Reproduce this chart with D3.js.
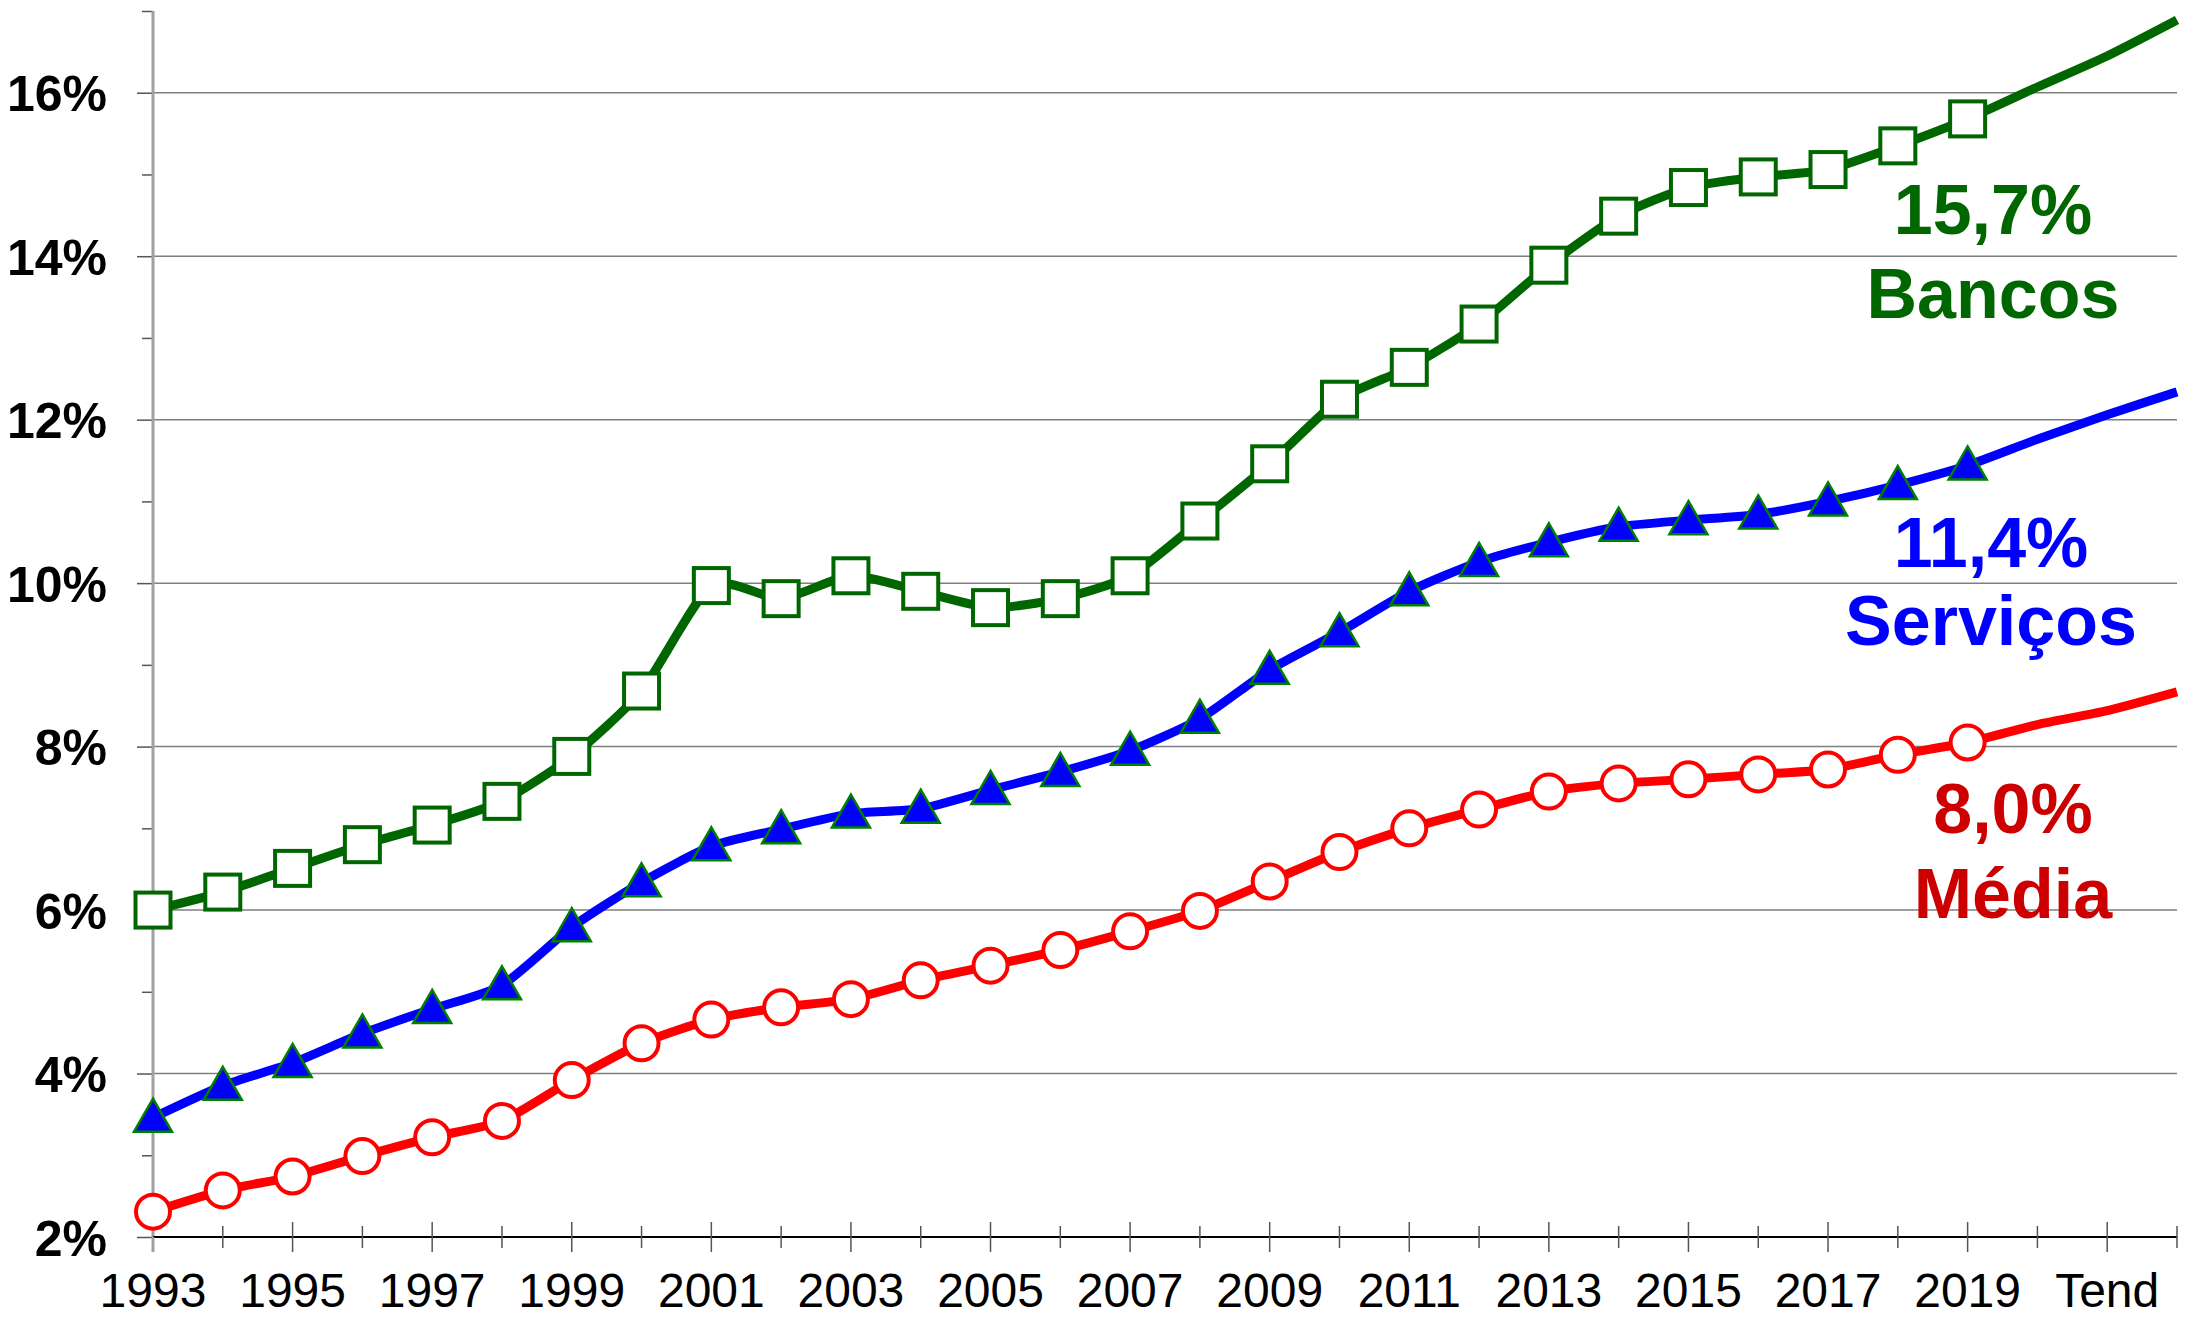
<!doctype html>
<meta charset="utf-8">
<style>
    body { margin: 0; background: #fff; }
    text { font-family: "Liberation Sans", Arial, sans-serif; }
</style>
<body>
<script src="https://d3js.org/d3.v7.min.js"></script>
<script>
    // categories: index 0..29, labels on even positions
    const categories = ['1993', '1994', '1995', '1996', '1997', '1998', '1999', '2000', '2001', '2002',
        '2003', '2004', '2005', '2006', '2007', '2008', '2009', '2010', '2011', '2012',
        '2013', '2014', '2015', '2016', '2017', '2018', '2019', '2020', 'Tend', ''];

    // observed values 1993-2019 (%)
    const bancos = [6.00, 6.22, 6.51, 6.80, 7.04, 7.33, 7.88, 8.68, 9.97, 9.81,
        10.09, 9.90, 9.70, 9.81, 10.09, 10.76, 11.46, 12.25, 12.64, 13.17,
        13.89, 14.49, 14.84, 14.97, 15.06, 15.35, 15.68];
    const servicos = [3.46, 3.85, 4.13, 4.49, 4.79, 5.08, 5.79, 6.34, 6.78, 6.99,
        7.18, 7.24, 7.47, 7.69, 7.95, 8.34, 8.94, 9.40, 9.90, 10.26,
        10.50, 10.69, 10.77, 10.84, 11.00, 11.20, 11.44];
    const media = [2.31, 2.57, 2.74, 2.99, 3.22, 3.42, 3.92, 4.37, 4.66, 4.81,
        4.91, 5.14, 5.32, 5.51, 5.74, 5.99, 6.35, 6.71, 7.00, 7.23,
        7.45, 7.55, 7.60, 7.66, 7.72, 7.90, 8.05];

    // trend extension (2020, Tend, end)
    const bancosTend = [16.07, 16.45, 16.89];
    const servicosTend = [11.76, 12.06, 12.34];
    const mediaTend = [8.27, 8.44, 8.67];

    const yTicks = [2, 4, 6, 8, 10, 12, 14, 16];
    const yMinorTicks = [3, 5, 7, 9, 11, 13, 15, 17];

    const endLabels = [
        {value: '15,7%', name: 'Bancos', color: '#006600', cx: 1993, y1: 234, y2: 318},
        {value: '11,4%', name: 'Serviços', color: '#0000ff', cx: 1991, y1: 567, y2: 645},
        {value: '8,0%', name: 'Média', color: '#cc0000', cx: 2013, y1: 833, y2: 918}
    ];

    const width = 2196;
    const height = 1319;
    const plotLeft = 153, plotRight = 2177, plotTop = 11, plotBottom = 1237;

    const x = d3.scaleLinear().domain([0, categories.length - 1]).range([plotLeft, plotRight]);
    const y = d3.scaleLinear().domain([2, 17]).range([plotBottom, plotTop]);

    const svg = d3.select('body')
        .append('svg')
        .attr('width', width)
        .attr('height', height);

    // gridlines
    svg.append('g')
        .selectAll('line')
        .data(yTicks.filter(d => d > 2))
        .enter()
        .append('line')
        .attr('x1', plotLeft)
        .attr('x2', plotRight)
        .attr('y1', d => y(d))
        .attr('y2', d => y(d))
        .attr('stroke', '#7f7f7f')
        .attr('stroke-width', 1.5);

    // y axis
    const yAxis = svg.append('g')
        .attr('transform', `translate(${plotLeft}, 0)`)
        .call(d3.axisLeft(y).tickValues(yTicks).tickSize(16).tickPadding(30).tickFormat(d => d + '%'));
    yAxis.select('.domain').remove();
    yAxis.selectAll('line').attr('stroke', '#555').attr('stroke-width', 1.5);
    yAxis.selectAll('text')
        .attr('font-size', 50)
        .attr('font-weight', 'bold')
        .attr('fill', '#000')
        .attr('dy', '0.36em')
        .attr('font-family', '"Liberation Sans", Arial, sans-serif');

    const yMinor = svg.append('g')
        .attr('transform', `translate(${plotLeft}, 0)`)
        .call(d3.axisLeft(y).tickValues(yMinorTicks).tickSize(11).tickFormat(''));
    yMinor.select('.domain').remove();
    yMinor.selectAll('line').attr('stroke', '#555').attr('stroke-width', 1.5);

    svg.append('line')
        .attr('x1', plotLeft).attr('x2', plotLeft)
        .attr('y1', plotTop).attr('y2', plotBottom)
        .attr('stroke', '#a0a0a0')
        .attr('stroke-width', 3);

    // x axis line and ticks (crossing)
    svg.append('line')
        .attr('x1', plotLeft).attr('x2', plotRight)
        .attr('y1', plotBottom).attr('y2', plotBottom)
        .attr('stroke', '#000')
        .attr('stroke-width', 2);

    svg.append('g')
        .selectAll('line')
        .data(categories.map((c, i) => i).filter(i => i > 0))
        .enter()
        .append('line')
        .attr('x1', i => x(i))
        .attr('x2', i => x(i))
        .attr('y1', i => plotBottom - (i % 2 === 0 ? 15 : 11))
        .attr('y2', i => plotBottom + (i % 2 === 0 ? 15 : 11))
        .attr('stroke', '#555')
        .attr('stroke-width', 1.5);

    svg.append('line')
        .attr('x1', plotLeft).attr('x2', plotLeft)
        .attr('y1', plotBottom).attr('y2', plotBottom + 15)
        .attr('stroke', '#a0a0a0')
        .attr('stroke-width', 3);

    svg.append('g')
        .selectAll('text')
        .data(categories.map((c, i) => ({c, i})).filter(d => d.i % 2 === 0))
        .enter()
        .append('text')
        .attr('x', d => x(d.i))
        .attr('y', 1307)
        .attr('text-anchor', 'middle')
        .attr('font-size', 48)
        .attr('fill', '#000')
        .text(d => d.c);

    const line = d3.line()
        .x((d, i) => x(i))
        .y(d => y(d))
        .curve(d3.curveCardinal.tension(0.35));

    const series = [
        {values: media, tend: mediaTend, color: '#ff0000', marker: 'circle'},
        {values: servicos, tend: servicosTend, color: '#0000ff', marker: 'triangle'},
        {values: bancos, tend: bancosTend, color: '#006600', marker: 'square'}
    ];

    series.forEach(s => {
        svg.append('path')
            .datum(s.values.concat(s.tend))
            .attr('d', line)
            .attr('fill', 'none')
            .attr('stroke', s.color)
            .attr('stroke-width', 9)
            .attr('stroke-linejoin', 'round');

        const g = svg.append('g');
        if (s.marker === 'circle') {
            g.selectAll('circle')
                .data(s.values)
                .enter()
                .append('circle')
                .attr('cx', (d, i) => x(i))
                .attr('cy', d => y(d))
                .attr('r', 17)
                .attr('fill', '#fff')
                .attr('stroke', '#ff0000')
                .attr('stroke-width', 4);
        } else if (s.marker === 'triangle') {
            g.selectAll('path')
                .data(s.values)
                .enter()
                .append('path')
                .attr('transform', (d, i) => `translate(${x(i)}, ${y(d)})`)
                .attr('d', 'M0,-19L19,14L-19,14Z')
                .attr('fill', '#0000ff')
                .attr('stroke', '#008000')
                .attr('stroke-width', 2.5);
        } else {
            g.selectAll('rect')
                .data(s.values)
                .enter()
                .append('rect')
                .attr('x', (d, i) => x(i) - 17.5)
                .attr('y', d => y(d) - 17.5)
                .attr('width', 35)
                .attr('height', 35)
                .attr('fill', '#fff')
                .attr('stroke', '#006600')
                .attr('stroke-width', 4);
        }
    });

    // end labels
    endLabels.forEach(l => {
        svg.append('text')
            .attr('x', l.cx).attr('y', l.y1)
            .attr('text-anchor', 'middle')
            .attr('font-size', 70)
            .attr('font-weight', 'bold')
            .attr('fill', l.color)
            .text(l.value);
        svg.append('text')
            .attr('x', l.cx).attr('y', l.y2)
            .attr('text-anchor', 'middle')
            .attr('font-size', 70)
            .attr('font-weight', 'bold')
            .attr('fill', l.color)
            .text(l.name);
    });
</script>
